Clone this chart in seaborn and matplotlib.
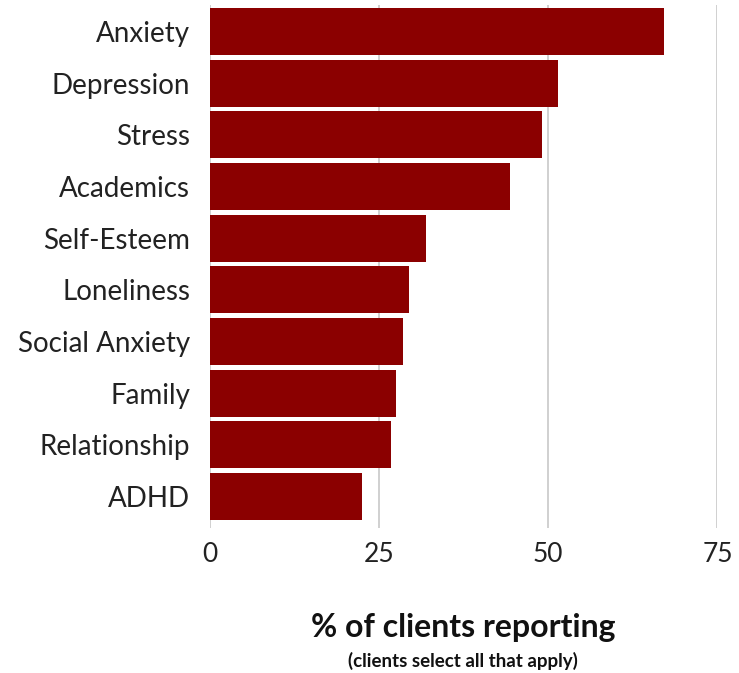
import pandas as pd
import matplotlib.pyplot as plt
import seaborn as sns

concerns = ['Anxiety', 'Depression', 'Stress', 'Academics', 'Self-Esteem',
            'Loneliness', 'Social Anxiety', 'Family', 'Relationship', 'ADHD']
percent = [67.1, 51.4, 49.1, 44.3, 32.0, 29.4, 28.6, 27.5, 26.8, 22.5]
ticks = [0, 25, 50, 75]

df = pd.DataFrame({'concern': concerns, 'percent': percent})

sns.set_theme(style='white')
plt.rcParams['font.family'] = ['Lato', 'DejaVu Sans']

fig = plt.figure(figsize=(7.39, 6.73), dpi=100)
ax = fig.add_axes([0.2836, 0.2155, 0.6873, 0.7771])

sns.barplot(data=df, x='percent', y='concern', order=concerns, color='#8b0000',
            saturation=1, width=0.91, ax=ax, zorder=3, edgecolor='none')

ax.set_xlim(0, 75)
ax.set_ylim(9.61, -0.51)
ax.set_xticks(ticks)
ax.set_xticklabels([str(t) for t in ticks], fontsize=19, color='#222222')
ax.tick_params(axis='y', labelsize=20, labelcolor='#222222', pad=14, length=0)
ax.tick_params(axis='x', pad=10, length=0)
ax.grid(axis='x', color='#c8c8c8', linewidth=1.2, zorder=0)
ax.set_ylabel('')
ax.set_xlabel('')
for s in ax.spines.values():
    s.set_visible(False)

fig.text(0.6263, 0.067, '% of clients reporting', ha='center', va='center',
         fontsize=23, fontweight='bold', color='#111111')
fig.text(0.6263, 0.018, '(clients select all that apply)', ha='center', va='center',
         fontsize=13.5, fontweight='bold', color='#111111')

plt.savefig('out.png', dpi=100)
